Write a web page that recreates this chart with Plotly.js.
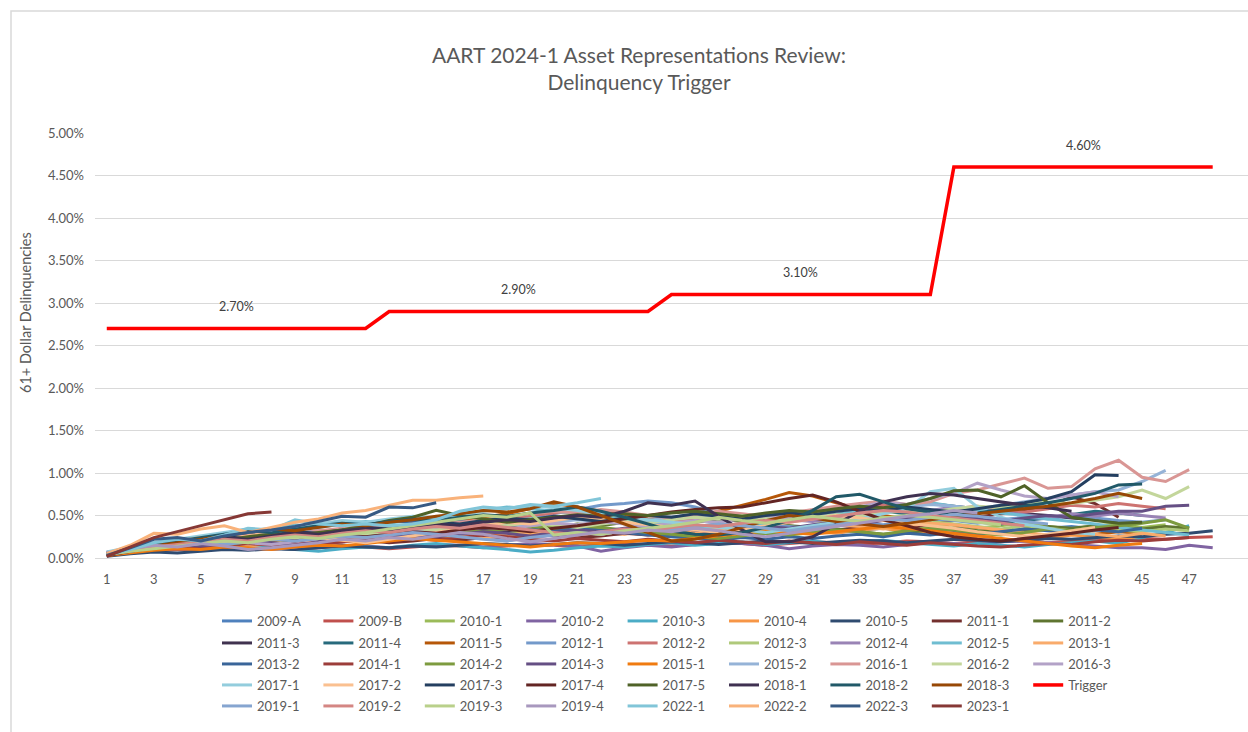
<!DOCTYPE html>
<html>
<head>
<meta charset="utf-8">
<script src="https://cdn.plot.ly/plotly-3.0.1.min.js"></script>
<style>html,body{margin:0;padding:0;background:#fff;}#chart{width:1248px;height:732px;}</style>
</head>
<body>
<div id="chart"></div>
<script>
// ---------------- DATA (values in %) ----------------
const d2009A = [0.05,0.10,0.14,0.16,0.15,0.18,0.20,0.22,0.19,0.21,0.24,0.22,0.25,0.27,0.24,0.26,0.29,0.27,0.25,0.28,0.30,0.27,0.29,0.31,0.28,0.30,0.33,0.31,0.29,0.32,0.34,0.30,0.33,0.35,0.32,0.30,0.34,0.36,0.33,0.31,0.35,0.37,0.34,0.32,0.36];
const d2009B = [0.03,0.06,0.08,0.10,0.09,0.11,0.13,0.12,0.10,0.12,0.14,0.13,0.11,0.13,0.15,0.14,0.12,0.14,0.16,0.15,0.13,0.15,0.17,0.16,0.14,0.16,0.18,0.17,0.15,0.17,0.19,0.18,0.16,0.18,0.20,0.19,0.17,0.19,0.21,0.20,0.18,0.20,0.22,0.21,0.23,0.22,0.24,0.25];
const d2010_1 = [0.06,0.12,0.17,0.20,0.18,0.22,0.25,0.21,0.19,0.23,0.26,0.24,0.28,0.31,0.27,0.30,0.33,0.29,0.32,0.35,0.31,0.28,0.32,0.34,0.30,0.33,0.36,0.32,0.35,0.38,0.34,0.31,0.35,0.37,0.33,0.36,0.39,0.35,0.38,0.41,0.37,0.34,0.38,0.40,0.36,0.39];
const d2010_2 = [0.04,0.07,0.09,0.11,0.10,0.12,0.14,0.13,0.11,0.13,0.15,0.14,0.12,0.14,0.16,0.15,0.13,0.15,0.17,0.16,0.14,0.08,0.12,0.15,0.13,0.16,0.18,0.17,0.15,0.11,0.14,0.16,0.15,0.13,0.16,0.18,0.17,0.15,0.19,0.20,0.18,0.16,0.14,0.12,0.12,0.10,0.15,0.12];
const d2010_3 = [0.03,0.08,0.11,0.13,0.12,0.15,0.14,0.12,0.10,0.08,0.11,0.13,0.12,0.15,0.17,0.14,0.12,0.10,0.07,0.09,0.12,0.14,0.13,0.16,0.18,0.15,0.17,0.19,0.16,0.18,0.20,0.17,0.19,0.21,0.18,0.16,0.14,0.17,0.15,0.13,0.16,0.18,0.20,0.17,0.24,0.30,0.38];
const d2010_4 = [0.04,0.09,0.13,0.15,0.14,0.17,0.16,0.19,0.21,0.18,0.22,0.24,0.21,0.25,0.23,0.27,0.29,0.26,0.28,0.31,0.27,0.30,0.28,0.32,0.29,0.27,0.31,0.33,0.30,0.34,0.31,0.29,0.33,0.35,0.31,0.29,0.27,0.25,0.29,0.26,0.23,0.27,0.25,0.22,0.26];
const d2010_5 = [0.02,0.05,0.07,0.06,0.08,0.10,0.09,0.11,0.10,0.12,0.14,0.13,0.12,0.14,0.13,0.15,0.17,0.16,0.14,0.16,0.18,0.17,0.15,0.17,0.19,0.18,0.16,0.18,0.20,0.19,0.17,0.19,0.21,0.20,0.18,0.20,0.22,0.21,0.19,0.21,0.23,0.22,0.24,0.26,0.25,0.28,0.29,0.32];
const d2011_1 = [0.03,0.07,0.10,0.12,0.14,0.13,0.16,0.18,0.15,0.17,0.19,0.21,0.18,0.20,0.23,0.21,0.24,0.22,0.25,0.27,0.24,0.26,0.29,0.27,0.30,0.28,0.31,0.33,0.30,0.32,0.35,0.33,0.36,0.38,0.35,0.40,0.44,0.48,0.52,0.55,0.60,0.72,0.64,0.48];
const d2011_2 = [0.05,0.10,0.14,0.17,0.22,0.20,0.24,0.22,0.26,0.24,0.28,0.30,0.27,0.31,0.35,0.32,0.36,0.34,0.38,0.36,0.40,0.38,0.42,0.40,0.44,0.42,0.46,0.43,0.40,0.38,0.36,0.34,0.31,0.28,0.30,0.33,0.35,0.32,0.30,0.34,0.37,0.35,0.38,0.36,0.34,0.37,0.35];
const d2011_3 = [0.04,0.09,0.13,0.16,0.19,0.17,0.21,0.19,0.23,0.26,0.24,0.28,0.31,0.29,0.26,0.30,0.34,0.32,0.36,0.39,0.37,0.41,0.44,0.42,0.46,0.44,0.48,0.51,0.49,0.53,0.56,0.54,0.58,0.62,0.60,0.64,0.61,0.58,0.55,0.52,0.50,0.47,0.45,0.42];
const d2011_4 = [0.05,0.11,0.16,0.19,0.23,0.21,0.26,0.24,0.29,0.27,0.32,0.35,0.33,0.37,0.40,0.38,0.42,0.45,0.43,0.47,0.50,0.48,0.45,0.42,0.40,0.38,0.36,0.40,0.43,0.46,0.50,0.54,0.58,0.55,0.52,0.49,0.45,0.42,0.40,0.44,0.47,0.51,0.55,0.53,0.50];
const d2011_5 = [0.04,0.09,0.13,0.17,0.20,0.24,0.22,0.27,0.31,0.29,0.34,0.37,0.35,0.39,0.42,0.45,0.48,0.52,0.58,0.64,0.60,0.55,0.50,0.46,0.44,0.48,0.55,0.62,0.69,0.77,0.73,0.65,0.57,0.50,0.46,0.42,0.39,0.36,0.33,0.31,0.34,0.30,0.28,0.31,0.29];
const d2012_1 = [0.06,0.12,0.16,0.19,0.22,0.25,0.27,0.25,0.29,0.32,0.30,0.34,0.31,0.35,0.38,0.36,0.40,0.43,0.47,0.52,0.57,0.62,0.64,0.67,0.65,0.60,0.52,0.45,0.40,0.37,0.34,0.38,0.41,0.39,0.43,0.46,0.44,0.41,0.45,0.48,0.46,0.50,0.47,0.44,0.42,0.45];
const d2012_2 = [0.05,0.10,0.13,0.16,0.15,0.19,0.18,0.22,0.26,0.30,0.34,0.37,0.35,0.39,0.42,0.40,0.44,0.47,0.50,0.53,0.56,0.52,0.48,0.45,0.42,0.46,0.50,0.47,0.44,0.48,0.52,0.55,0.58,0.62,0.59,0.55,0.58,0.61,0.57,0.54,0.58,0.62,0.60,0.64,0.61,0.58];
const d2012_3 = [0.04,0.08,0.11,0.14,0.17,0.20,0.18,0.21,0.24,0.22,0.26,0.29,0.27,0.31,0.34,0.38,0.44,0.40,0.46,0.36,0.30,0.33,0.31,0.35,0.38,0.42,0.50,0.46,0.43,0.47,0.44,0.41,0.45,0.48,0.46,0.43,0.40,0.37,0.34,0.38,0.35,0.32,0.36,0.33,0.31,0.34,0.32];
const d2012_4 = [0.07,0.10,0.13,0.12,0.15,0.14,0.12,0.10,0.13,0.17,0.21,0.25,0.28,0.31,0.29,0.26,0.23,0.20,0.24,0.27,0.30,0.28,0.32,0.35,0.33,0.37,0.40,0.38,0.42,0.45,0.43,0.47,0.51,0.55,0.58,0.56,0.60,0.57,0.54,0.51,0.48,0.52,0.49,0.53,0.50,0.47];
const d2012_5 = [0.05,0.11,0.16,0.20,0.24,0.28,0.32,0.35,0.39,0.36,0.40,0.43,0.41,0.45,0.48,0.52,0.56,0.60,0.58,0.55,0.52,0.48,0.45,0.42,0.40,0.37,0.35,0.38,0.41,0.44,0.48,0.51,0.55,0.58,0.62,0.65,0.61,0.57,0.53,0.50,0.46,0.43,0.40,0.36,0.33,0.30,0.27];
const d2013_1 = [0.04,0.08,0.12,0.15,0.18,0.16,0.14,0.17,0.20,0.18,0.21,0.24,0.22,0.25,0.28,0.26,0.23,0.27,0.30,0.33,0.31,0.28,0.32,0.35,0.33,0.30,0.34,0.37,0.35,0.32,0.36,0.39,0.37,0.34,0.38,0.41,0.39,0.36,0.33,0.30,0.27,0.31,0.28,0.25,0.29,0.26];
const d2013_2 = [0.05,0.11,0.17,0.22,0.21,0.25,0.28,0.31,0.35,0.38,0.42,0.40,0.44,0.42,0.46,0.44,0.41,0.38,0.35,0.32,0.36,0.33,0.30,0.27,0.25,0.23,0.21,0.24,0.22,0.25,0.23,0.26,0.28,0.25,0.29,0.27,0.30,0.28,0.31,0.34,0.32,0.29,0.33,0.31,0.35];
const d2014_1 = [0.03,0.07,0.10,0.13,0.11,0.14,0.17,0.15,0.18,0.16,0.19,0.22,0.20,0.23,0.21,0.24,0.27,0.25,0.22,0.20,0.23,0.21,0.19,0.22,0.20,0.18,0.21,0.19,0.17,0.20,0.18,0.16,0.19,0.17,0.15,0.18,0.16,0.14,0.13,0.15,0.17,0.16,0.19,0.21,0.20,0.22,0.24];
const d2014_2 = [0.04,0.09,0.12,0.15,0.18,0.16,0.19,0.22,0.20,0.24,0.27,0.25,0.28,0.26,0.30,0.33,0.31,0.34,0.37,0.35,0.38,0.36,0.33,0.30,0.28,0.25,0.23,0.26,0.29,0.27,0.30,0.33,0.31,0.28,0.32,0.35,0.33,0.30,0.27,0.30,0.34,0.32,0.36,0.38,0.41,0.45,0.35];
const d2014_3 = [0.06,0.10,0.13,0.16,0.14,0.17,0.20,0.18,0.15,0.19,0.22,0.20,0.24,0.27,0.25,0.28,0.31,0.29,0.26,0.30,0.33,0.31,0.35,0.38,0.36,0.33,0.30,0.34,0.37,0.35,0.39,0.42,0.40,0.44,0.47,0.45,0.49,0.46,0.43,0.47,0.50,0.48,0.52,0.55,0.55,0.61,0.62];
const d2015_1 = [0.03,0.06,0.09,0.11,0.10,0.13,0.12,0.10,0.13,0.15,0.14,0.17,0.20,0.23,0.21,0.19,0.17,0.15,0.13,0.16,0.18,0.17,0.19,0.21,0.20,0.23,0.26,0.29,0.32,0.30,0.28,0.31,0.34,0.37,0.35,0.32,0.29,0.26,0.23,0.20,0.17,0.14,0.12,0.15,0.17];
const d2015_2 = [0.05,0.10,0.15,0.19,0.17,0.21,0.24,0.22,0.26,0.29,0.27,0.31,0.34,0.32,0.36,0.39,0.37,0.41,0.38,0.42,0.45,0.43,0.47,0.44,0.48,0.51,0.49,0.46,0.50,0.53,0.51,0.55,0.58,0.56,0.60,0.63,0.61,0.58,0.62,0.66,0.70,0.74,0.78,0.80,0.90,1.03];
const d2016_1 = [0.06,0.12,0.17,0.21,0.25,0.23,0.27,0.30,0.28,0.32,0.35,0.33,0.37,0.40,0.38,0.42,0.45,0.48,0.52,0.55,0.53,0.57,0.54,0.50,0.47,0.51,0.55,0.52,0.49,0.53,0.57,0.61,0.64,0.67,0.63,0.66,0.76,0.80,0.87,0.94,0.82,0.84,1.05,1.15,0.95,0.90,1.04];
const d2016_2 = [0.05,0.10,0.14,0.17,0.20,0.18,0.22,0.25,0.23,0.27,0.30,0.28,0.32,0.35,0.33,0.37,0.40,0.38,0.42,0.39,0.36,0.40,0.43,0.41,0.45,0.48,0.46,0.50,0.47,0.44,0.48,0.51,0.49,0.53,0.56,0.54,0.58,0.61,0.59,0.63,0.66,0.64,0.68,0.72,0.80,0.70,0.84];
const d2016_3 = [0.06,0.11,0.15,0.19,0.22,0.20,0.18,0.16,0.19,0.23,0.26,0.24,0.28,0.31,0.29,0.33,0.36,0.34,0.38,0.41,0.39,0.43,0.40,0.37,0.41,0.44,0.42,0.46,0.50,0.47,0.51,0.55,0.60,0.66,0.63,0.70,0.76,0.88,0.80,0.73,0.70,0.74,0.78,0.72];
const d2017_1 = [0.07,0.13,0.18,0.22,0.26,0.30,0.34,0.32,0.36,0.40,0.44,0.42,0.46,0.49,0.47,0.51,0.55,0.58,0.62,0.59,0.56,0.52,0.48,0.45,0.42,0.39,0.36,0.33,0.30,0.34,0.38,0.42,0.46,0.52,0.58,0.78,0.82,0.60,0.48,0.40,0.35,0.30,0.28];
const d2017_2 = [0.05,0.10,0.16,0.20,0.24,0.22,0.26,0.30,0.28,0.24,0.21,0.18,0.22,0.26,0.30,0.34,0.38,0.42,0.40,0.44,0.48,0.46,0.42,0.39,0.36,0.33,0.30,0.34,0.38,0.42,0.46,0.50,0.47,0.44,0.41,0.38,0.35,0.31,0.28,0.25,0.28,0.32,0.36];
const d2017_3 = [0.05,0.10,0.14,0.18,0.21,0.25,0.23,0.27,0.31,0.29,0.33,0.36,0.34,0.38,0.42,0.40,0.44,0.47,0.45,0.49,0.46,0.43,0.47,0.50,0.48,0.52,0.49,0.46,0.50,0.53,0.51,0.55,0.58,0.56,0.60,0.57,0.54,0.58,0.62,0.65,0.70,0.78,0.98,0.97];
const d2017_4 = [0.03,0.08,0.12,0.15,0.18,0.21,0.19,0.23,0.20,0.24,0.27,0.25,0.28,0.31,0.29,0.33,0.36,0.34,0.31,0.35,0.38,0.42,0.46,0.50,0.54,0.57,0.59,0.60,0.65,0.70,0.74,0.66,0.55,0.45,0.38,0.30,0.25,0.22,0.20,0.23,0.26,0.29,0.33,0.36];
const d2017_5 = [0.05,0.10,0.15,0.19,0.23,0.21,0.25,0.28,0.26,0.30,0.33,0.38,0.44,0.48,0.56,0.50,0.46,0.42,0.45,0.48,0.51,0.49,0.52,0.50,0.53,0.55,0.52,0.49,0.53,0.56,0.54,0.58,0.61,0.59,0.63,0.70,0.79,0.80,0.72,0.85,0.65,0.48,0.44,0.41,0.42];
const d2018_1 = [0.04,0.09,0.13,0.16,0.20,0.24,0.22,0.26,0.30,0.28,0.32,0.35,0.33,0.37,0.40,0.38,0.42,0.45,0.43,0.47,0.50,0.48,0.55,0.65,0.62,0.67,0.49,0.33,0.19,0.19,0.25,0.40,0.55,0.66,0.72,0.76,0.74,0.70,0.66,0.62,0.59,0.55];
const d2018_2 = [0.05,0.11,0.16,0.20,0.24,0.28,0.32,0.30,0.34,0.38,0.41,0.39,0.43,0.46,0.44,0.48,0.51,0.49,0.53,0.56,0.60,0.55,0.48,0.40,0.32,0.28,0.27,0.30,0.36,0.44,0.56,0.72,0.75,0.66,0.58,0.54,0.50,0.53,0.57,0.61,0.65,0.70,0.76,0.86,0.87];
const d2018_3 = [0.04,0.09,0.14,0.18,0.22,0.26,0.30,0.34,0.32,0.36,0.40,0.38,0.42,0.45,0.49,0.52,0.56,0.54,0.58,0.66,0.60,0.50,0.40,0.30,0.20,0.22,0.28,0.36,0.44,0.50,0.47,0.43,0.40,0.37,0.41,0.45,0.49,0.52,0.55,0.58,0.61,0.65,0.70,0.76,0.70];
const trigger = [2.70,2.70,2.70,2.70,2.70,2.70,2.70,2.70,2.70,2.70,2.70,2.70,2.90,2.90,2.90,2.90,2.90,2.90,2.90,2.90,2.90,2.90,2.90,2.90,3.10,3.10,3.10,3.10,3.10,3.10,3.10,3.10,3.10,3.10,3.10,3.10,4.60,4.60,4.60,4.60,4.60,4.60,4.60,4.60,4.60,4.60,4.60,4.60];
const d2019_1 = [0.04,0.08,0.12,0.15,0.18,0.16,0.19,0.22,0.20,0.23,0.26,0.24,0.27,0.30,0.28,0.25,0.22,0.20,0.24,0.27,0.30,0.28,0.32,0.35,0.33,0.37,0.40,0.38,0.35,0.32,0.36,0.39,0.43,0.46,0.44,0.48,0.51,0.49,0.46,0.43,0.40];
const d2019_2 = [0.05,0.09,0.13,0.16,0.19,0.22,0.20,0.24,0.27,0.25,0.29,0.32,0.30,0.34,0.37,0.35,0.39,0.36,0.33,0.30,0.27,0.31,0.34,0.32,0.36,0.39,0.37,0.41,0.44,0.42,0.46,0.49,0.53,0.56,0.54,0.50,0.47,0.44,0.41,0.38];
const d2019_3 = [0.04,0.08,0.11,0.14,0.17,0.20,0.18,0.22,0.25,0.23,0.27,0.30,0.34,0.38,0.42,0.46,0.50,0.48,0.53,0.27,0.30,0.28,0.32,0.35,0.38,0.42,0.48,0.44,0.41,0.45,0.49,0.46,0.43,0.47,0.50,0.48,0.45,0.42,0.39];
const d2019_4 = [0.06,0.11,0.15,0.13,0.17,0.14,0.10,0.12,0.15,0.18,0.22,0.20,0.24,0.22,0.26,0.30,0.28,0.23,0.19,0.23,0.27,0.31,0.29,0.33,0.31,0.35,0.32,0.28,0.25,0.29,0.33,0.37,0.41,0.45,0.49,0.52,0.56,0.53];
const d2022_1 = [0.04,0.10,0.18,0.22,0.20,0.27,0.35,0.33,0.45,0.40,0.38,0.40,0.38,0.40,0.45,0.55,0.60,0.58,0.63,0.61,0.65,0.70];
const d2022_2 = [0.05,0.15,0.29,0.28,0.34,0.38,0.30,0.36,0.42,0.46,0.53,0.56,0.62,0.68,0.68,0.71,0.73];
const d2022_3 = [0.03,0.12,0.22,0.24,0.20,0.26,0.30,0.33,0.37,0.43,0.49,0.48,0.60,0.59,0.65];
const d2023_1 = [0.02,0.13,0.24,0.31,0.38,0.45,0.52,0.54];

const seriesNames = ['2009-A','2009-B','2010-1','2010-2','2010-3','2010-4','2010-5','2011-1','2011-2',
  '2011-3','2011-4','2011-5','2012-1','2012-2','2012-3','2012-4','2012-5','2013-1',
  '2013-2','2014-1','2014-2','2014-3','2015-1','2015-2','2016-1','2016-2','2016-3',
  '2017-1','2017-2','2017-3','2017-4','2017-5','2018-1','2018-2','2018-3','Trigger',
  '2019-1','2019-2','2019-3','2019-4','2022-1','2022-2','2022-3','2023-1'];
const seriesValues = [d2009A,d2009B,d2010_1,d2010_2,d2010_3,d2010_4,d2010_5,d2011_1,d2011_2,
  d2011_3,d2011_4,d2011_5,d2012_1,d2012_2,d2012_3,d2012_4,d2012_5,d2013_1,
  d2013_2,d2014_1,d2014_2,d2014_3,d2015_1,d2015_2,d2016_1,d2016_2,d2016_3,
  d2017_1,d2017_2,d2017_3,d2017_4,d2017_5,d2018_1,d2018_2,d2018_3,trigger,
  d2019_1,d2019_2,d2019_3,d2019_4,d2022_1,d2022_2,d2022_3,d2023_1];
const xTickVals = [1,3,5,7,9,11,13,15,17,19,21,23,25,27,29,31,33,35,37,39,41,43,45,47];

// ---------------- STYLE ----------------
const seriesColors = ['#4F81BD','#C0504D','#9BBB59','#8064A2','#4BACC6','#F79646','#2F4B70','#73302E','#5F7530',
  '#40324F','#276A7C','#B65708','#7399CA','#CD7371','#AFC97A','#9983B5','#6FBDD1','#F9AB6B',
  '#3A6599','#9C3D3A','#7D9B3F','#654F84','#F07B10','#95B3D7','#D99694','#C3D69B','#B3A2C7',
  '#93CDDD','#FAC090','#243F60','#632523','#4F6228','#3F3151','#215968','#974806','#FF0000',
  '#86A5D0','#D48683','#B9D08A','#A898BE','#81C5D8','#F9B27A','#375A84','#863835'];
const textColor = '#595959';
const fontFam = 'Lato, "Open Sans", sans-serif';
const W = 1248, H = 732;
const M = {l: 95, r: 0, t: 133, b: 174};
const perRow = 9;
const legendRowTops = [606, 628, 649, 670, 691];
const legendLeft = 217;

const traces = seriesNames.map((name, i) => {
  const vals = seriesValues[i];
  const isTrig = name === 'Trigger';
  return {
    type: 'scatter', mode: 'lines', name: name,
    x: vals.map((v, j) => j + 1), y: vals,
    line: {color: seriesColors[i], width: isTrig ? 3.5 : 3},
    legend: Math.floor(i / perRow) === 0 ? 'legend' : 'legend' + (Math.floor(i / perRow) + 1),
    hoverinfo: 'skip'
  };
});

// Trigger level labels: one per level, centred over its segment
const annotations = [];
let start = 0;
for (let j = 1; j <= trigger.length; j++) {
  if (j === trigger.length || trigger[j] !== trigger[start]) {
    annotations.push({
      x: (start + 1 + j) / 2, y: trigger[start], xref: 'x', yref: 'y',
      text: trigger[start].toFixed(2) + '%', showarrow: false, yshift: 22,
      font: {family: fontFam, size: 12.5, color: '#404040'}
    });
    start = j;
  }
}
// y-axis title
annotations.push({
  xref: 'paper', yref: 'paper', x: (25 - M.l) / (W - M.l - M.r), y: (H - M.b - 313) / (H - M.t - M.b),
  text: '61+ Dollar Delinquencies', textangle: -90, showarrow: false,
  xanchor: 'center', yanchor: 'middle',
  font: {family: fontFam, size: 14.5, color: textColor}
});

const layout = {
  width: W, height: H,
  margin: Object.assign({autoexpand: false}, M),
  paper_bgcolor: '#FFFFFF', plot_bgcolor: '#FFFFFF',
  font: {family: fontFam, color: textColor, size: 13},
  title: {
    text: 'AART 2024-1 Asset Representations Review:<br>Delinquency Trigger',
    xref: 'container', yref: 'container', x: 639 / W, y: 1 - 63 / H,
    xanchor: 'center', yanchor: 'middle',
    font: {family: fontFam, size: 21, color: textColor}
  },
  xaxis: {
    range: [0.5, 49.5], tickvals: xTickVals, showgrid: false, zeroline: false,
    showline: true, linecolor: '#D9D9D9', linewidth: 1, ticks: '',
    ticklabelstandoff: 9, tickfont: {family: fontFam, size: 13, color: textColor}, fixedrange: true
  },
  yaxis: {
    range: [0, 5], dtick: 0.5, tick0: 0, tickformat: '.2f', ticksuffix: '%',
    showgrid: true, gridcolor: '#D9D9D9', gridwidth: 1,
    zeroline: true, zerolinecolor: '#D9D9D9', zerolinewidth: 1,
    showline: false, ticks: '', ticklabelstandoff: 10,
    tickfont: {family: fontFam, size: 13, color: textColor}, fixedrange: true
  },
  annotations: annotations,
  shapes: [{
    type: 'rect', xref: 'paper', yref: 'paper', layer: 'below',
    x0: (11 - M.l) / (W - M.l - M.r), x1: 1.2,
    y0: -0.6, y1: (H - M.b - 11) / (H - M.t - M.b),
    line: {color: '#D9D9D9', width: 1.5}, fillcolor: 'rgba(0,0,0,0)'
  }],
  showlegend: true
};
legendRowTops.forEach((top, k) => {
  layout[k === 0 ? 'legend' : 'legend' + (k + 1)] = {
    orientation: 'h', xref: 'container', yref: 'container',
    x: legendLeft / W, xanchor: 'left', y: 1 - top / H, yanchor: 'top',
    entrywidth: 56.4, entrywidthmode: 'pixels', traceorder: 'normal',
    bgcolor: 'rgba(0,0,0,0)', borderwidth: 0,
    font: {family: fontFam, size: 13, color: textColor}
  };
});

Plotly.newPlot('chart', traces, layout, {displayModeBar: false, staticPlot: true});
</script>
</body>
</html>
